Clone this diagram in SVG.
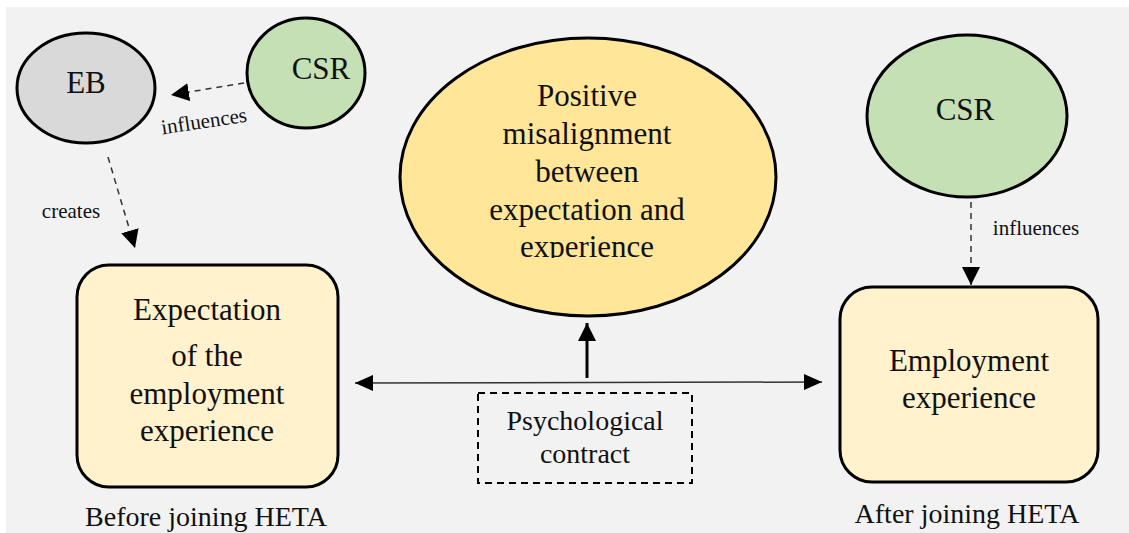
<svg xmlns="http://www.w3.org/2000/svg" width="1129" height="533" viewBox="0 0 1129 533">
  <style>
    text { font-family: "Liberation Serif", "Times New Roman", serif; fill: #111; text-anchor: middle; }
    .big { font-size: 31px; }
    .lbl { font-size: 21px; }
    .cap { font-size: 28px; }
    .node { stroke: #000; stroke-width: 3; }
    .dash { stroke: #333; stroke-width: 1.5; stroke-dasharray: 6 5; fill: none; }
  </style>
  <defs>
    <marker id="triDash" viewBox="0 0 10 10" refX="10" refY="5" markerWidth="18" markerHeight="18" markerUnits="userSpaceOnUse" orient="auto">
      <path d="M0,0 L10,5 L0,10 Z" fill="#000"/>
    </marker>
    <marker id="triH" viewBox="0 0 10 10" refX="10" refY="5" markerWidth="18" markerHeight="16" markerUnits="userSpaceOnUse" orient="auto-start-reverse" preserveAspectRatio="none">
      <path d="M0,0 L10,5 L0,10 Z" fill="#000"/>
    </marker>
    <marker id="triV" viewBox="0 0 10 10" refX="10" refY="5" markerWidth="18" markerHeight="18" markerUnits="userSpaceOnUse" orient="auto">
      <path d="M0,0 L10,5 L0,10 Z" fill="#000"/>
    </marker>
    <clipPath id="centreClip">
      <rect x="400" y="30" width="380" height="228"/>
    </clipPath>
  </defs>

  <!-- backdrop -->
  <rect x="0" y="0" width="1129" height="533" fill="#ffffff"/>
  <rect x="6" y="7" width="1123" height="526" fill="#f2f2f2"/>

  <!-- connectors -->
  <g id="connectors">
    <line class="dash" x1="244" y1="83" x2="171" y2="95" marker-end="url(#triDash)"/>
    <line class="dash" x1="108" y1="157" x2="135" y2="248" marker-end="url(#triDash)"/>
    <line class="dash" x1="971" y1="202" x2="971" y2="285" marker-end="url(#triDash)"/>
    <line x1="355" y1="383" x2="822" y2="382" stroke="#333" stroke-width="1.5" marker-start="url(#triH)" marker-end="url(#triH)"/>
    <line x1="587" y1="378" x2="587" y2="323" stroke="#000" stroke-width="3" marker-end="url(#triV)"/>
    <text class="lbl" transform="translate(205 128) rotate(-8.5)">influences</text>
    <text class="lbl" x="71" y="218">creates</text>
    <text class="lbl" x="1036" y="235">influences</text>
  </g>

  <g id="eb">
    <ellipse class="node" cx="86" cy="88" rx="69" ry="55" fill="#d9d9d9"/>
    <text class="big" x="86" y="93">EB</text>
  </g>

  <g id="csr-before">
    <ellipse class="node" cx="306" cy="73" rx="59" ry="55" fill="#c5e0b4"/>
    <text class="big" x="321" y="79">CSR</text>
  </g>

  <g id="misalignment">
    <ellipse class="node" cx="588" cy="177" rx="188" ry="139" fill="#ffe699"/>
    <g clip-path="url(#centreClip)">
      <text class="big" x="587" y="106">Positive</text>
      <text class="big" x="587" y="144">misalignment</text>
      <text class="big" x="587" y="182">between</text>
      <text class="big" x="587" y="220">expectation and</text>
      <text class="big" x="587" y="257">experience</text>
    </g>
  </g>

  <g id="csr-after">
    <ellipse class="node" cx="967" cy="116" rx="100" ry="81" fill="#c5e0b4"/>
    <text class="big" x="965" y="120">CSR</text>
  </g>

  <g id="expectation">
    <rect class="node" x="77" y="265" width="261" height="222" rx="32" fill="#fff2cc"/>
    <text class="big" x="207" y="320">Expectation</text>
    <text class="big" x="207" y="366">of the</text>
    <text class="big" x="207" y="404">employment</text>
    <text class="big" x="207" y="441">experience</text>
    <text class="cap" x="206" y="526">Before joining HETA</text>
  </g>

  <g id="psych-contract">
    <rect x="478" y="393" width="214" height="90" fill="none" stroke="#000" stroke-width="2" stroke-dasharray="7 5"/>
    <text class="cap" x="585" y="430">Psychological</text>
    <text class="cap" x="585" y="463">contract</text>
  </g>

  <g id="employment">
    <rect class="node" x="840" y="287" width="258" height="195" rx="32" fill="#fff2cc"/>
    <text class="big" x="969" y="371">Employment</text>
    <text class="big" x="969" y="408">experience</text>
    <text class="cap" x="967" y="523">After joining HETA</text>
  </g>
</svg>
